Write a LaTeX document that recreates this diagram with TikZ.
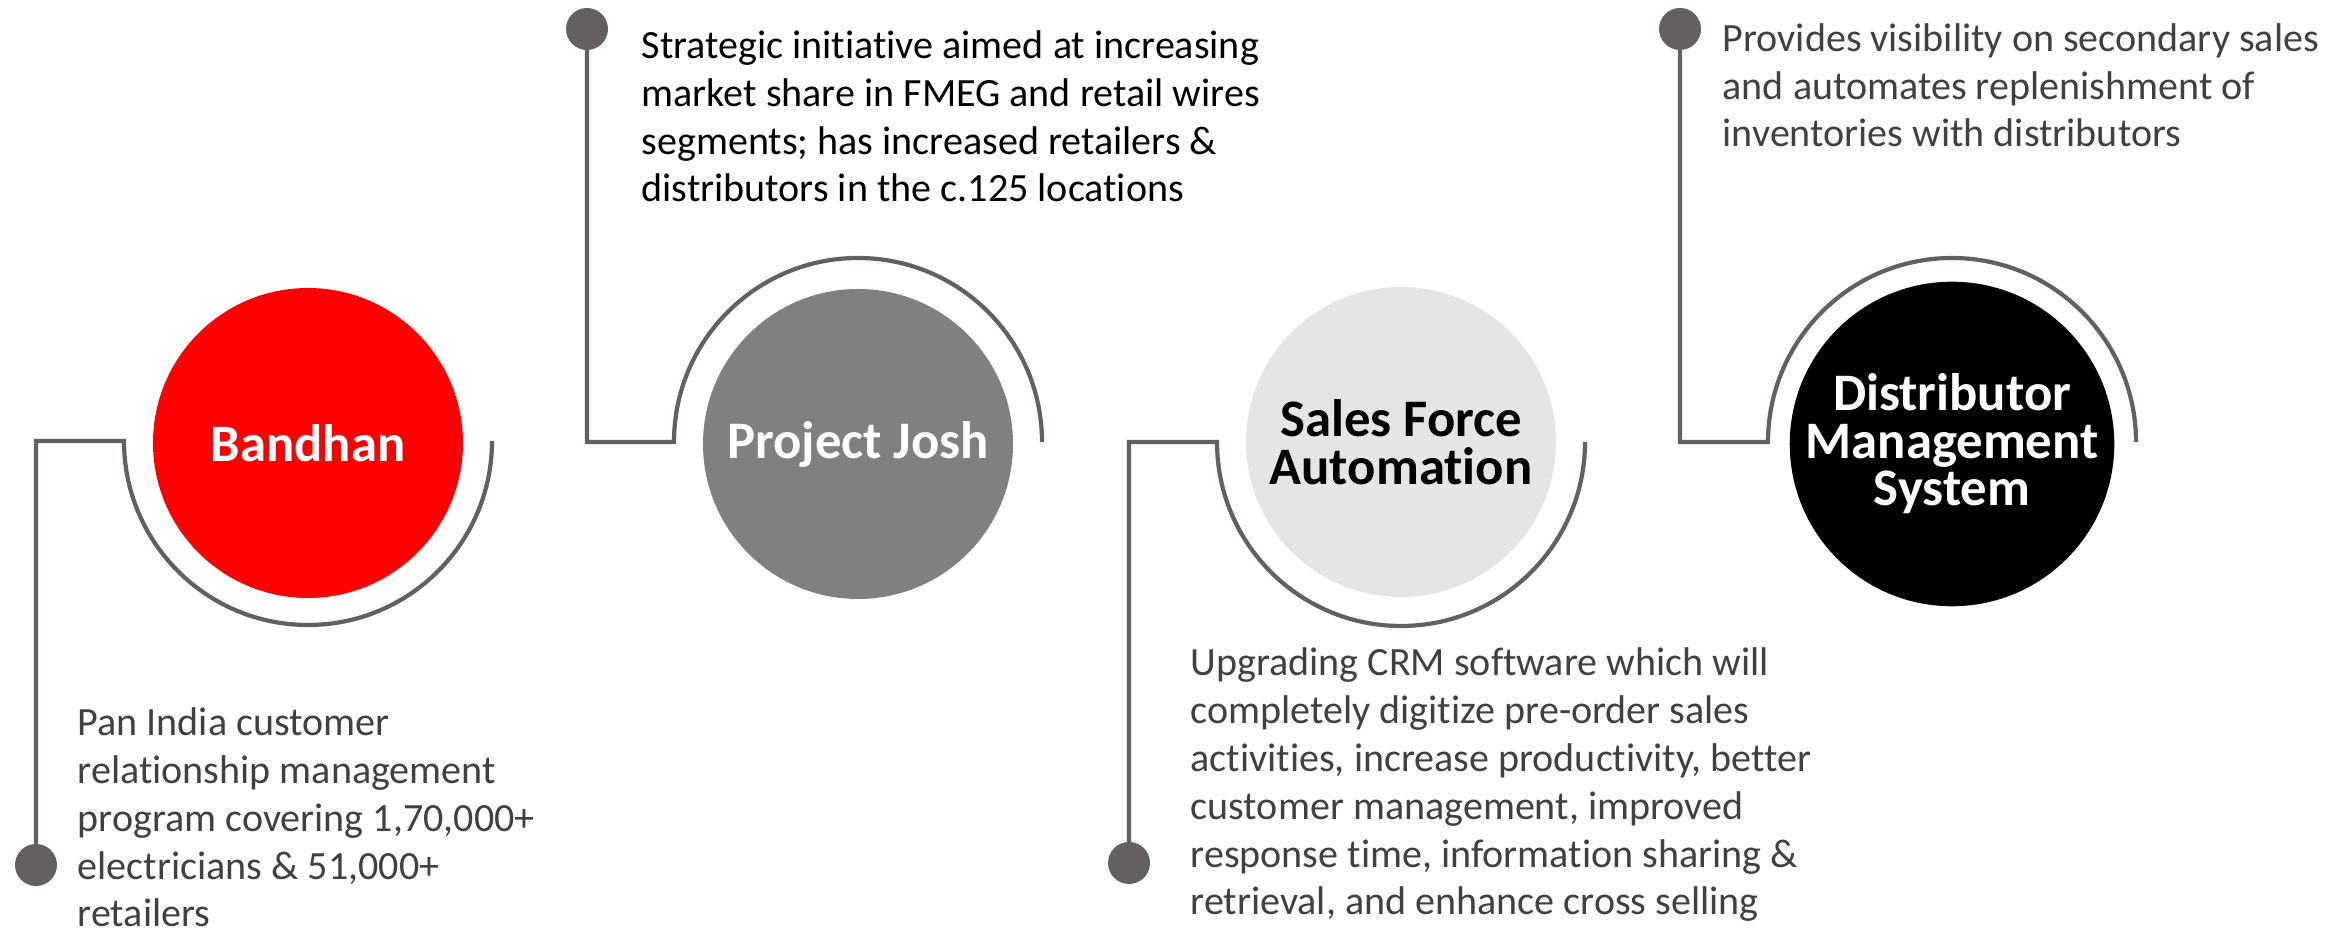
\documentclass[tikz,border=0pt]{standalone}
\usepackage{fontspec}
\setmainfont{Carlito}[Ligatures=NoCommon]
\usetikzlibrary{positioning,calc}

\definecolor{wiregray}{RGB}{100,96,95}
\definecolor{textgray}{RGB}{64,64,64}
\definecolor{joshgray}{RGB}{128,128,128}
\definecolor{palegray}{RGB}{229,228,230}

\begin{document}
\begin{tikzpicture}
        [hub/.style={circle,minimum size=3.1cm,inner sep=0pt,align=center,font=\fontsize{15}{13.5}\selectfont\bfseries},
         desc/.style={anchor=base west,inner sep=0pt,align=left,text=textgray,font=\fontsize{11.4}{13.6}\selectfont},
         pin/.style={circle,fill=wiregray,minimum size=0.42cm,inner sep=0pt},
         wire/.style={draw=wiregray,line width=1.2pt}]

        \useasboundingbox (0,0) rectangle (23.41,9.33);

        % Bandhan
        \begin{scope}[shift={(3.08,4.90)}]
            \node[hub,fill=red,text=white] (bandhan) at (0,0) {Bandhan};
            \coordinate (bandhanL) at (-1.84,0.02);
            \node[pin] (bandhanPin) at (-2.72,-4.22) {};
            \draw[wire] (bandhanPin.center) |- (bandhanL) arc[start angle=180,end angle=360,radius=1.84];
            \node[desc] (bandhanText) at (-2.31,-4.84) {Pan India customer\\relationship management\\program covering 1,70,000+\\electricians \& 51,000+\\retailers};
        \end{scope}

        % Project Josh
        \begin{scope}[shift={(8.58,4.89)}]
            \node[hub,fill=joshgray,text=white] (josh) at (0,0) {Project Josh};
            \coordinate (joshL) at (-1.84,0.02);
            \node[pin] (joshPin) at (-2.71,4.15) {};
            \draw[wire] (joshPin.center) |- (joshL) arc[start angle=180,end angle=0,radius=1.84];
            \node[desc,text=black] (joshText) at (-2.17,2.42) {Strategic initiative aimed at increasing\\market share in FMEG and retail wires\\segments; has increased retailers \&\\distributors in the c.125 locations};
        \end{scope}

        % Sales Force Automation
        \begin{scope}[shift={(14.01,4.91)}]
            \node[hub,fill=palegray,text=black] (sfa) at (0,0) {Sales Force\\Automation};
            \coordinate (sfaL) at (-1.84,0);
            \node[pin] (sfaPin) at (-2.72,-4.21) {};
            \draw[wire] (sfaPin.center) |- (sfaL) arc[start angle=180,end angle=360,radius=1.84];
            \node[desc] (sfaText) at (-2.11,-4.73) {Upgrading CRM software which will\\completely digitize pre-order sales\\activities, increase productivity, better\\customer management, improved\\response time, information sharing \&\\retrieval, and enhance cross selling};
        \end{scope}

        % Distributor Management System
        \begin{scope}[shift={(19.52,4.89)}]
            \node[hub,fill=black,text=white] (dms) at (0,0) {Distributor\\Management\\System};
            \coordinate (dmsL) at (-1.84,0.02);
            \node[pin] (dmsPin) at (-2.72,4.15) {};
            \draw[wire] (dmsPin.center) |- (dmsL) arc[start angle=180,end angle=0,radius=1.84];
            \node[desc] (dmsText) at (-2.30,2.97) {Provides visibility on secondary sales\\and automates replenishment of\\inventories with distributors};
        \end{scope}

    \end{tikzpicture}
\end{document}
